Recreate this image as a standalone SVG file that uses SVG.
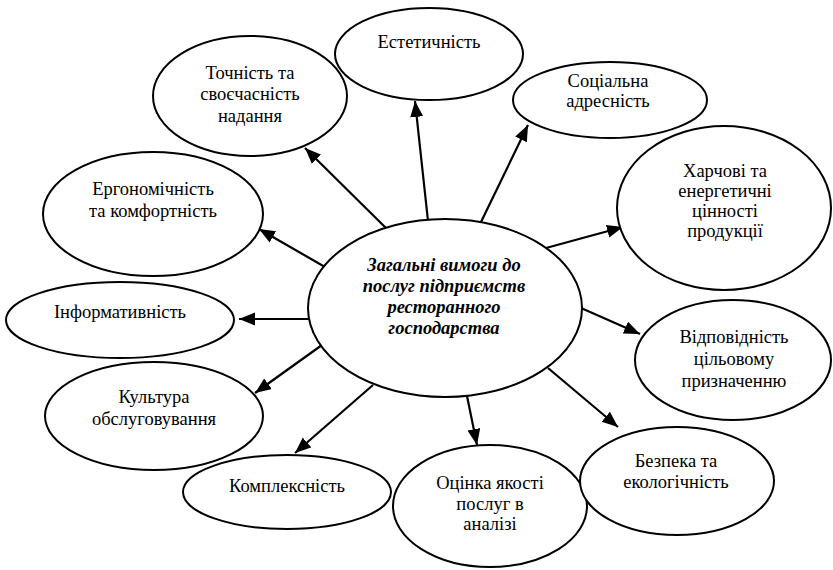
<svg xmlns="http://www.w3.org/2000/svg" width="833" height="570" viewBox="0 0 833 570">
<style>
.n ellipse{fill:#fff;stroke:#000;stroke-width:2}
.c line{stroke:#000;stroke-width:2.2;marker-end:url(#ah)}
</style>
<defs>
<marker id="ah" markerUnits="userSpaceOnUse" markerWidth="17" markerHeight="14" refX="16" refY="6.5" orient="auto">
<path d="M0,0 L16,6.5 L0,13 z" fill="#000"/>
</marker>
</defs>
<rect width="833" height="570" fill="#fff"/>
<g class="c" id="connectors">
<line x1="428" y1="221" x2="415" y2="101"/>
<line x1="481" y1="222" x2="528" y2="125"/>
<line x1="388" y1="230" x2="305" y2="148"/>
<line x1="325" y1="267" x2="259" y2="229"/>
<line x1="310" y1="319" x2="239" y2="319"/>
<line x1="322" y1="345" x2="255" y2="393"/>
<line x1="373" y1="385" x2="295" y2="453"/>
<line x1="467" y1="396" x2="477" y2="445"/>
<line x1="548" y1="368" x2="618" y2="427"/>
<line x1="581" y1="308" x2="640" y2="334"/>
<line x1="546" y1="248" x2="623" y2="227"/>
</g>
<g class="n" id="n-estetychnist">
<ellipse cx="429" cy="54" rx="94" ry="46"/>
<text x="429" y="48" font-family="Liberation Serif" font-size="18.5" text-anchor="middle">Естетичність</text>
</g>
<g class="n" id="n-tochnist">
<ellipse cx="250" cy="96" rx="97" ry="60"/>
<text x="250" y="79" font-family="Liberation Serif" font-size="18.5" text-anchor="middle">Точність та</text>
<text x="250" y="100" font-family="Liberation Serif" font-size="18.5" text-anchor="middle">своєчасність</text>
<text x="250" y="122" font-family="Liberation Serif" font-size="18.5" text-anchor="middle">надання</text>
</g>
<g class="n" id="n-sotsialna">
<ellipse cx="610" cy="100" rx="97" ry="38"/>
<text x="608" y="87" font-family="Liberation Serif" font-size="18.5" text-anchor="middle">Соціальна</text>
<text x="608" y="107" font-family="Liberation Serif" font-size="18.5" text-anchor="middle">адресність</text>
</g>
<g class="n" id="n-kharchovi">
<ellipse cx="724" cy="208" rx="107" ry="82"/>
<text x="725" y="177" font-family="Liberation Serif" font-size="18.5" text-anchor="middle">Харчові та</text>
<text x="725" y="197" font-family="Liberation Serif" font-size="18.5" text-anchor="middle">енергетичні</text>
<text x="725" y="217" font-family="Liberation Serif" font-size="18.5" text-anchor="middle">цінності</text>
<text x="725" y="237" font-family="Liberation Serif" font-size="18.5" text-anchor="middle">продукції</text>
</g>
<g class="n" id="n-erhonomichnist">
<ellipse cx="153" cy="214" rx="110" ry="62"/>
<text x="153" y="195" font-family="Liberation Serif" font-size="18.5" text-anchor="middle">Ергономічність</text>
<text x="153" y="217" font-family="Liberation Serif" font-size="18.5" text-anchor="middle">та комфортність</text>
</g>
<g class="n" id="n-informatyvnist">
<ellipse cx="120" cy="320" rx="114" ry="38"/>
<text x="120" y="318" font-family="Liberation Serif" font-size="18.5" text-anchor="middle">Інформативність</text>
</g>
<g class="n" id="n-kultura">
<ellipse cx="154" cy="416" rx="109" ry="54"/>
<text x="154" y="403" font-family="Liberation Serif" font-size="18.5" text-anchor="middle">Культура</text>
<text x="154" y="425" font-family="Liberation Serif" font-size="18.5" text-anchor="middle">обслуговування</text>
</g>
<g class="n" id="n-kompleksnist">
<ellipse cx="287" cy="492" rx="104" ry="37"/>
<text x="287" y="492" font-family="Liberation Serif" font-size="18.5" text-anchor="middle">Комплексність</text>
</g>
<g class="n" id="n-otsinka">
<ellipse cx="490" cy="506" rx="97" ry="61"/>
<text x="490" y="489" font-family="Liberation Serif" font-size="18.5" text-anchor="middle">Оцінка якості</text>
<text x="490" y="510" font-family="Liberation Serif" font-size="18.5" text-anchor="middle">послуг в</text>
<text x="490" y="530" font-family="Liberation Serif" font-size="18.5" text-anchor="middle">аналізі</text>
</g>
<g class="n" id="n-bezpeka">
<ellipse cx="677" cy="481" rx="97" ry="54"/>
<text x="676" y="467" font-family="Liberation Serif" font-size="18.5" text-anchor="middle">Безпека та</text>
<text x="676" y="488" font-family="Liberation Serif" font-size="18.5" text-anchor="middle">екологічність</text>
</g>
<g class="n" id="n-vidpovidnist">
<ellipse cx="733" cy="360" rx="98" ry="60"/>
<text x="734" y="343" font-family="Liberation Serif" font-size="18.5" text-anchor="middle">Відповідність</text>
<text x="734" y="365" font-family="Liberation Serif" font-size="18.5" text-anchor="middle">цільовому</text>
<text x="734" y="387" font-family="Liberation Serif" font-size="18.5" text-anchor="middle">призначенню</text>
</g>
<g class="n" id="center">
<ellipse cx="445" cy="308" rx="137" ry="89"/>
<text x="444" y="271" font-family="Liberation Serif" font-size="18.5" font-weight="bold" font-style="italic" text-anchor="middle">Загальні вимоги до</text>
<text x="444" y="292" font-family="Liberation Serif" font-size="18.5" font-weight="bold" font-style="italic" text-anchor="middle">послуг підприємств</text>
<text x="444" y="313" font-family="Liberation Serif" font-size="18.5" font-weight="bold" font-style="italic" text-anchor="middle">ресторанного</text>
<text x="444" y="334" font-family="Liberation Serif" font-size="18.5" font-weight="bold" font-style="italic" text-anchor="middle">господарства</text>
</g>
</svg>
